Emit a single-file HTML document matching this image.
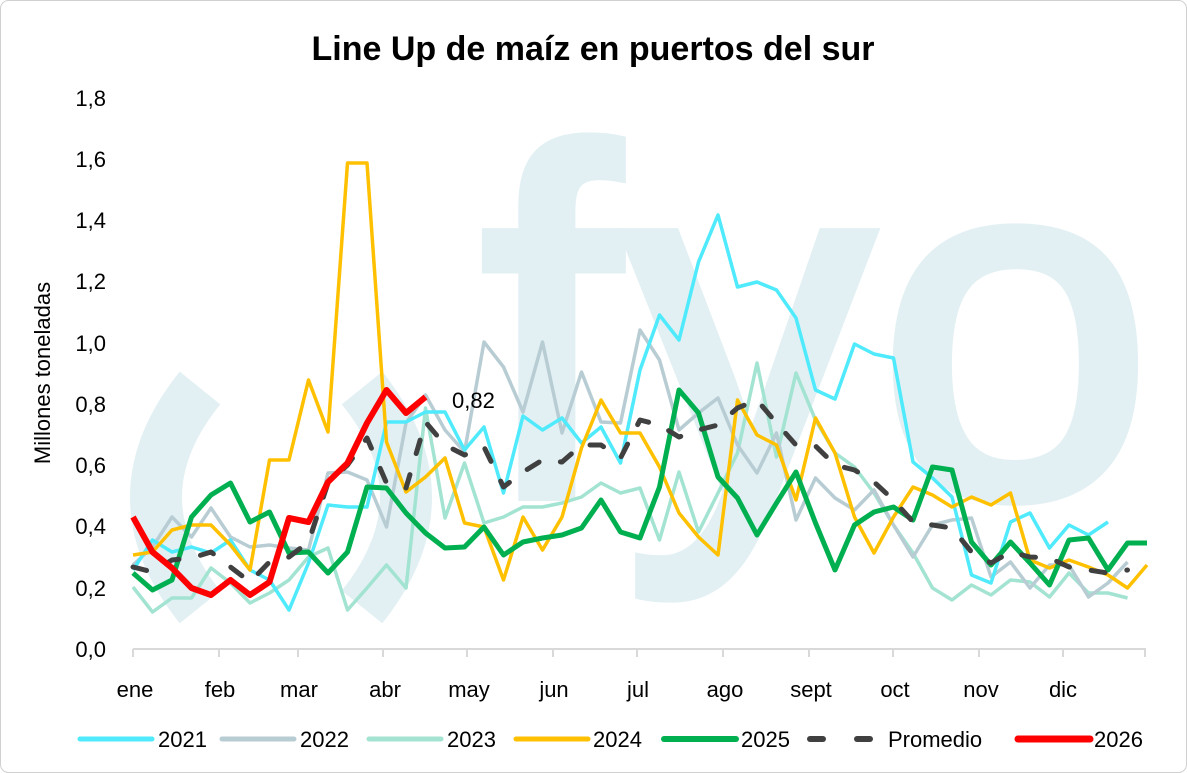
<!DOCTYPE html>
<html><head><meta charset="utf-8"><style>
html,body{margin:0;padding:0;background:#fff;}
svg{display:block;font-family:"Liberation Sans",sans-serif;}
</style></head><body>
<svg id="s" width="1187" height="773" viewBox="0 0 1187 773" xmlns="http://www.w3.org/2000/svg">
<rect x="0.5" y="0.5" width="1186" height="772" rx="8" fill="#fff" stroke="#d0d0d0"/>
<path d="M 200 388 Q 112 497 200 607" stroke="#E2F0F4" stroke-width="52" fill="none"/>
<path d="M 362 388 Q 450 497 362 607" stroke="#E2F0F4" stroke-width="52" fill="none"/>
<text x="482" y="494" font-size="490" fill="#E2F0F4" stroke="#E2F0F4" stroke-width="14" letter-spacing="8" font-family="Liberation Sans, sans-serif">fyo</text>
<text x="593" y="60" text-anchor="middle" font-size="34" font-weight="bold" fill="#000">Line Up de maíz en puertos del sur</text>
<g font-size="22" fill="#000" text-anchor="end">
<text x="106" y="657">0,0</text><text x="106" y="596">0,2</text><text x="106" y="534">0,4</text><text x="106" y="473">0,6</text><text x="106" y="412">0,8</text><text x="106" y="351">1,0</text><text x="106" y="289">1,2</text><text x="106" y="228">1,4</text><text x="106" y="167">1,6</text><text x="106" y="106">1,8</text>
</g>
<text transform="translate(50,373) rotate(-90)" text-anchor="middle" font-size="22">Millones toneladas</text>
<line x1="133" y1="649" x2="1146" y2="649" stroke="#d9d9d9" stroke-width="2"/>
<g id="ticks" stroke="#d9d9d9" stroke-width="2"></g>
<g font-size="22" text-anchor="middle" fill="#000">
<text x="135" y="697">ene</text><text x="220" y="697">feb</text><text x="299" y="697">mar</text><text x="385" y="697">abr</text><text x="469" y="697">may</text><text x="554" y="697">jun</text><text x="638" y="697">jul</text><text x="725" y="697">ago</text><text x="811" y="697">sept</text><text x="895" y="697">oct</text><text x="981" y="697">nov</text><text x="1063" y="697">dic</text>
</g>
<g id="lines" fill="none" stroke-linejoin="round"></g>
<text x="452" y="408" font-size="22" fill="#000">0,82</text>
<g font-size="22" fill="#000">
<line x1="80" y1="739" x2="152" y2="739" stroke="#4FEAFB" stroke-width="5" stroke-linecap="round"/><text x="158" y="747">2021</text>
<line x1="222" y1="739" x2="294" y2="739" stroke="#B8CDD3" stroke-width="5" stroke-linecap="round"/><text x="300" y="747">2022</text>
<line x1="369" y1="739" x2="441" y2="739" stroke="#A3E3D1" stroke-width="5" stroke-linecap="round"/><text x="447" y="747">2023</text>
<line x1="516" y1="739" x2="588" y2="739" stroke="#FFC000" stroke-width="5" stroke-linecap="round"/><text x="593" y="747">2024</text>
<line x1="664" y1="739" x2="736" y2="739" stroke="#00B050" stroke-width="6" stroke-linecap="round"/><text x="741" y="747">2025</text>
<line x1="810" y1="739" x2="823" y2="739" stroke="#404040" stroke-width="6" stroke-linecap="round"/><line x1="857" y1="739" x2="870" y2="739" stroke="#404040" stroke-width="6" stroke-linecap="round"/><text x="888" y="747">Promedio</text>
<line x1="1018" y1="739" x2="1090" y2="739" stroke="#FF0000" stroke-width="7" stroke-linecap="round"/><text x="1094" y="747">2026</text>
</g>
</svg>
<script>
var NS="http://www.w3.org/2000/svg";
var tk=document.getElementById("ticks");
[133,219,298,383,467,553,637,723,809,893,979,1063,1145].forEach(function(x){var l=document.createElementNS(NS,"line");l.setAttribute("x1",x);l.setAttribute("x2",x);l.setAttribute("y1",649);l.setAttribute("y2",657);tk.appendChild(l);});
var S=[
["#A3E3D1",3.5,null,[587,612,598,598,568,583,603,593,580,557,548,610,588,565,588,408,518,463,523,517,507,507,503,497,483,493,488,540,472,532,493,453,363,457,373,420,453,467,493,525,553,588,600,585,595,580,582,597,573,593,593,598]],
["#B8CDD3",3.5,null,[565,547,517,537,508,537,547,545,548,550,473,472,480,527,423,395,430,452,342,367,412,342,433,372,422,423,330,360,430,413,398,445,473,433,520,478,498,510,490,525,557,525,520,518,577,562,588,565,565,597,583,562]],
["#4FEAFB",3.5,null,[570,540,552,547,553,540,570,580,610,563,505,507,507,422,422,412,412,450,427,493,416,430,418,443,427,463,370,315,340,262,215,287,282,290,318,390,399,344,354,358,462,478,497,575,583,522,513,548,525,535,522]],
["#FFC000",3.5,null,[555,552,530,525,525,545,570,460,460,380,432,163,163,442,492,477,458,523,527,580,517,550,517,448,400,433,433,467,513,537,555,400,435,445,500,418,453,517,553,517,487,495,507,497,505,493,560,568,560,567,575,588,565]],
["#00B050",5,null,[573,590,580,517,495,483,522,512,553,552,573,552,487,488,513,533,548,547,527,555,542,538,535,528,500,532,538,487,390,413,477,498,535,503,472,523,570,525,512,507,520,467,470,542,565,542,563,585,540,538,570,543,543]],
["#404040",5,"14 22",[567,572,560,558,552,567,582,562,557,542,483,465,438,483,488,422,445,455,447,487,472,460,462,445,445,458,420,425,437,430,425,408,400,423,445,446,465,470,482,500,522,525,528,552,563,552,557,558,567,570,573,570]],
["#FF0000",6,null,[517,552,568,588,595,580,595,582,518,522,482,463,423,390,413,397]]
];
var g=document.getElementById("lines");
S.forEach(function(s){var p=document.createElementNS(NS,"polyline");
p.setAttribute("points",s[3].map(function(y,i){return (133+19.5*i).toFixed(1)+","+y;}).join(" "));
p.setAttribute("stroke",s[0]);p.setAttribute("stroke-width",s[1]);
if(s[2]){p.setAttribute("stroke-dasharray",s[2]);p.setAttribute("stroke-linecap","round");}
g.appendChild(p);});
</script>
</body></html>
